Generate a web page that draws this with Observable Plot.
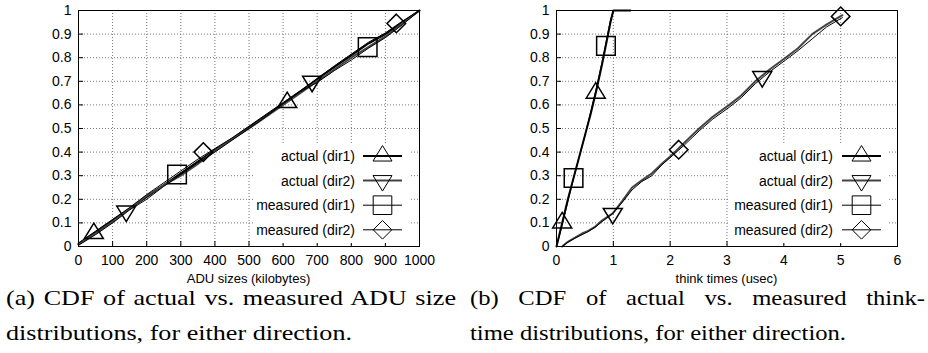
<!DOCTYPE html>
<html><head><meta charset="utf-8">
<script src="https://cdn.jsdelivr.net/npm/d3@7"></script>
<script src="https://cdn.jsdelivr.net/npm/@observablehq/plot@0.6"></script>
<style>
body{margin:0;background:#fff;}
#root{position:relative;width:928px;height:353px;overflow:hidden;background:#fff;}
.panel{position:absolute;top:0;}
.xlab{position:absolute;top:272px;height:14px;line-height:14px;font-family:"Liberation Sans",Arial,sans-serif;font-size:13px;color:#000;text-align:center;white-space:nowrap;}
.key{position:absolute;top:143px;background:#fff;}
.cap{position:absolute;font-family:"Liberation Serif","Times New Roman",serif;font-size:22px;line-height:20px;color:#000;white-space:nowrap;transform-origin:0 50%;}
.j{text-align:justify;text-align-last:justify;}
</style></head><body><div id="root"></div>
<script>
// ---------- data ----------
const legendLabels = ["actual (dir1)", "actual (dir2)", "measured (dir1)", "measured (dir2)"];

// Panel (a): ADU sizes
const aduX = [0,50,100,150,200,250,300,350,400,450,500,550,600,650,700,750,800,850,900,950,1000];
const aduActual1 = [0.01,0.06,0.11,0.16,0.21,0.26,0.31,0.36,0.41,0.455,0.505,0.555,0.605,0.655,0.71,0.76,0.81,0.86,0.90,0.95,1.0];
const aduActual2 = [0.01,0.055,0.105,0.16,0.215,0.26,0.30,0.35,0.405,0.455,0.50,0.55,0.60,0.65,0.70,0.75,0.80,0.845,0.89,0.945,1.0];
const aduMeasured1 = [0.005,0.05,0.10,0.155,0.20,0.255,0.305,0.355,0.40,0.45,0.50,0.55,0.605,0.655,0.695,0.745,0.79,0.84,0.885,0.94,1.0];
const aduMeasured2 = [0.015,0.065,0.115,0.165,0.22,0.27,0.32,0.37,0.415,0.46,0.51,0.56,0.61,0.66,0.71,0.765,0.815,0.865,0.905,0.955,1.0];
const aduMarkA1 = {x:[45,612], y:[0.055,0.61]};
const aduMarkA2 = {x:[140,685], y:[0.15,0.70]};
const aduMarkM1 = {x:[289,848], y:[0.305,0.845]};
const aduMarkM2 = {x:[366,932], y:[0.40,0.945]};
const aduXTicks = [0,100,200,300,400,500,600,700,800,900,1000];

// Panel (b): think times
const thinkX1 = [0,0.1,0.2,0.3,0.4,0.5,0.6,0.7,0.8,0.9,0.95,1.0,1.1,1.3];
const thinkActual1 = [0,0.10,0.20,0.29,0.38,0.47,0.56,0.66,0.77,0.89,0.95,1.0,1.0,1.0];
const thinkMeasured1 = [0,0.09,0.19,0.29,0.38,0.47,0.57,0.67,0.78,0.90,0.96,1.0,1.0,1.0];
const thinkX2 = [0.1,0.2,0.32,0.45,0.55,0.67,0.8,0.99,1.15,1.33,1.5,1.68,1.85,2.04,2.25,2.51,2.75,3.04,3.25,3.5,3.75,4.03,4.25,4.5,4.75,5.03];
const thinkActual2 = [0,0.02,0.037,0.055,0.065,0.082,0.11,0.14,0.19,0.25,0.28,0.31,0.35,0.39,0.44,0.50,0.55,0.60,0.64,0.70,0.75,0.80,0.84,0.90,0.94,0.98];
const thinkMeasured2 = [0,0.018,0.035,0.05,0.062,0.08,0.105,0.14,0.185,0.24,0.275,0.30,0.345,0.385,0.43,0.49,0.54,0.59,0.63,0.69,0.74,0.79,0.83,0.88,0.93,0.97];
const thinkMarkA1 = {x:[0.1,0.69], y:[0.10,0.65]};
const thinkMarkA2 = {x:[0.99,3.62], y:[0.14,0.72]};
const thinkMarkM1 = {x:[0.3,0.87], y:[0.29,0.85]};
const thinkMarkM2 = {x:[2.15,5.0], y:[0.41,0.975]};
const thinkXTicks = [0,1,2,3,4,5,6];

const yTicks = [0,0.1,0.2,0.3,0.4,0.5,0.6,0.7,0.8,0.9,1];

const captionA = ["(a) CDF of actual vs. measured ADU size", "distributions, for either direction."];
const captionB = ["(b) CDF of actual vs. measured think-", "time distributions, for either direction."];

// ---------- symbols ----------
const rOf = s => Math.sqrt(s / Math.PI);
const symTriUp = {draw(c, s){ const r = rOf(s); c.moveTo(0, -1.1*r); c.lineTo(r, 0.53*r); c.lineTo(-r, 0.53*r); c.closePath(); }};
const symTriDown = {draw(c, s){ const r = rOf(s); c.moveTo(0, 1.1*r); c.lineTo(r, -0.53*r); c.lineTo(-r, -0.53*r); c.closePath(); }};
const symSquare = {draw(c, s){ const r = rOf(s)*0.98; c.moveTo(-r,-r); c.lineTo(r,-r); c.lineTo(r,r); c.lineTo(-r,r); c.closePath(); }};
const symDiamond = {draw(c, s){ const r = rOf(s)*0.98; c.moveTo(0,-r); c.lineTo(r,0); c.lineTo(0,r); c.lineTo(-r,0); c.closePath(); }};
const symbols = [symTriUp, symTriDown, symSquare, symDiamond];
const lineStyles = [
  {stroke:"#000", width:2},
  {stroke:"#444", width:2},
  {stroke:"#000", width:1},
  {stroke:"#000", width:1}
];
const R = 9.5;

const rows = (xs, ys) => xs.map((x, i) => ({x, y: ys[i]}));
const root = document.getElementById("root");

function panel(cfg) {
  const W = 464, H = 290, mt = 10, mb = 44;
  const pw = W - cfg.ml - cfg.mr, ph = H - mt - mb;
  const marks = [
    Plot.ruleX(cfg.xTicks, {x: d => d, stroke: "#777", strokeDasharray: "1,2", strokeWidth: 1}),
    Plot.ruleY(yTicks, {y: d => d, stroke: "#777", strokeDasharray: "1,2", strokeWidth: 1}),
    Plot.tickX(cfg.xTicks, {x: d => d, stroke: "#000", insetTop: ph - 5}),
    Plot.tickY(yTicks, {y: d => d, stroke: "#000", insetRight: pw - 5})
  ];
  cfg.series.forEach((s, i) => {
    const st = lineStyles[i];
    marks.push(Plot.line(rows(s.x, s.y), {x: "x", y: "y", stroke: st.stroke, strokeWidth: st.width}));
  });
  cfg.marks.forEach((m, i) => {
    marks.push(Plot.dot(rows(m.x, m.y), {x: "x", y: "y", symbol: symbols[i], r: R, stroke: "#000", fill: "none"}));
  });
  marks.push(Plot.frame({stroke: "#000", strokeWidth: 1}));
  const svg = Plot.plot({
    width: W, height: H, marginTop: mt, marginBottom: mb, marginLeft: cfg.ml, marginRight: cfg.mr,
    style: {fontFamily: "'Liberation Sans', Arial, sans-serif", fontSize: "14px", color: "#000", overflow: "visible"},
    x: {domain: cfg.xDomain, ticks: cfg.xTicks, tickFormat: d => String(d), tickSize: 0, tickPadding: 9, label: null},
    y: {domain: [0, 1], ticks: yTicks, tickFormat: d => String(d), tickSize: 0, tickPadding: 7, label: null},
    marks
  });
  svg.classList.add("panel");
  svg.style.left = cfg.left + "px";
  root.appendChild(svg);

  // x-axis label
  const lab = document.createElement("div");
  lab.className = "xlab";
  lab.style.left = (cfg.left + cfg.ml) + "px";
  lab.style.width = pw + "px";
  lab.textContent = cfg.label;
  root.appendChild(lab);

  // legend (gnuplot-style opaque key), overlaid on the plot area
  const L = cfg.legend;
  const kw = L.boxX1 - L.boxX0, kh = 100;
  const key = d3.create("svg").attr("class", "key").attr("width", kw).attr("height", kh)
    .style("left", (cfg.left + L.boxX0) + "px");
  legendLabels.forEach((t, i) => {
    const y = 13 + i * 24.6;
    key.append("text").attr("x", L.textX - L.boxX0).attr("y", y).attr("dy", "0.35em").attr("text-anchor", "end")
      .attr("font-family", "'Liberation Sans', Arial, sans-serif").attr("font-size", 14).attr("fill", "#000").text(t);
    key.append("line").attr("x1", L.lineX0 - L.boxX0).attr("x2", L.lineX1 - L.boxX0).attr("y1", y).attr("y2", y)
      .attr("stroke", lineStyles[i].stroke).attr("stroke-width", lineStyles[i].width);
    key.append("path").attr("transform", `translate(${(L.lineX0 + L.lineX1) / 2 - L.boxX0},${y})`)
      .attr("d", d3.symbol(symbols[i], R * R * Math.PI)()).attr("fill", "none").attr("stroke", "#000").attr("stroke-width", 1);
  });
  root.appendChild(key.node());
}

panel({
  left: 0, ml: 78, mr: 45, xDomain: [0, 1000], xTicks: aduXTicks, label: "ADU sizes (kilobytes)",
  series: [{x: aduX, y: aduActual1}, {x: aduX, y: aduActual2}, {x: aduX, y: aduMeasured1}, {x: aduX, y: aduMeasured2}],
  marks: [aduMarkA1, aduMarkA2, aduMarkM1, aduMarkM2],
  legend: {boxX0: 254, boxX1: 410, textX: 355, lineX0: 363, lineX1: 402}
});
panel({
  left: 464, ml: 92, mr: 31, xDomain: [0, 6], xTicks: thinkXTicks, label: "think times (usec)",
  series: [{x: thinkX1, y: thinkActual1}, {x: thinkX2, y: thinkActual2}, {x: thinkX1, y: thinkMeasured1}, {x: thinkX2, y: thinkMeasured2}],
  marks: [thinkMarkA1, thinkMarkA2, thinkMarkM1, thinkMarkM2],
  legend: {boxX0: 266, boxX1: 424, textX: 369, lineX0: 378, lineX1: 417}
});

// captions: line 2 sets the horizontal scale (Computer Modern is wider than Times), line 1 is justified
function caption(lines, left, w1, w2) {
  const d2 = document.createElement("div");
  d2.className = "cap"; d2.style.left = left + "px"; d2.style.top = "323px";
  d2.textContent = lines[1]; root.appendChild(d2);
  const s = w2 / d2.getBoundingClientRect().width;
  d2.style.transform = `scaleX(${s})`;
  const d1 = document.createElement("div");
  d1.className = "cap"; d1.style.left = left + "px"; d1.style.top = "288px";
  d1.textContent = lines[0]; root.appendChild(d1);
  const nat = d1.getBoundingClientRect().width;
  const want = w1 / s;
  if (want > nat) { d1.classList.add("j"); d1.style.width = want + "px"; d1.style.transform = `scaleX(${s})`; }
  else { d1.style.transform = `scaleX(${w1 / nat})`; }
}
caption(captionA, 6, 450, 346);
caption(captionB, 470, 455, 376);
</script>
</body></html>
